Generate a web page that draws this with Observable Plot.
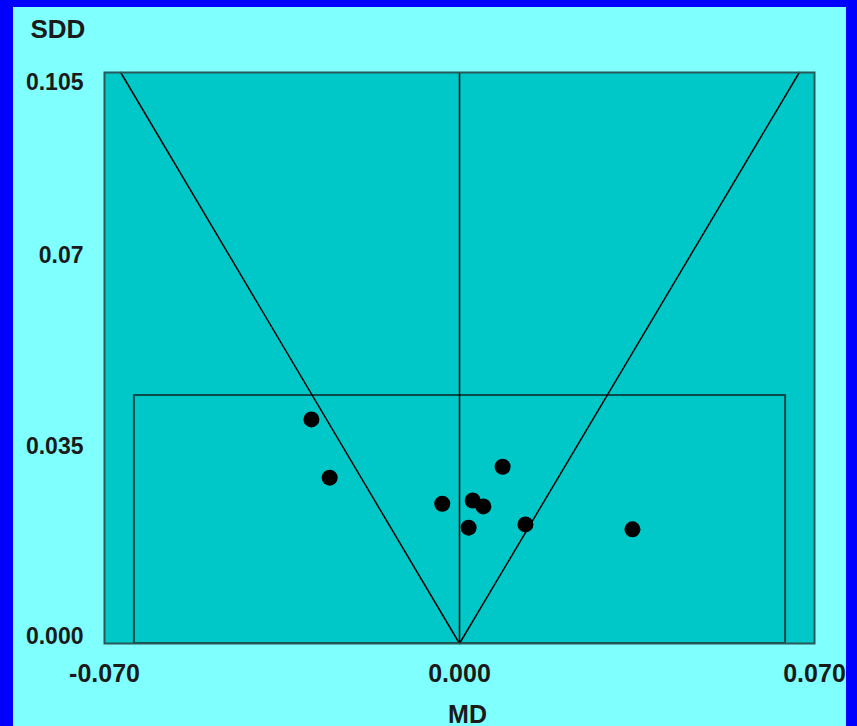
<!DOCTYPE html>
<html>
<head>
<meta charset="utf-8">
<script src="https://cdn.jsdelivr.net/npm/d3@7"></script>
<script src="https://cdn.jsdelivr.net/npm/@observablehq/plot@0.6"></script>
<style>
  html, body { margin: 0; padding: 0; background: #0000ff; width: 857px; height: 726px; overflow: hidden; }
  #chart { position: absolute; left: 13px; top: 7px; width: 833px; height: 719px; background: #80ffff; }
  svg { display: block; }
</style>
</head>
<body>
<div id="chart"></div>
<script>
// Data
const md  = [-0.0292, -0.0256, -0.0034, 0.0026, 0.0047, 0.0018, 0.0085, 0.0130, 0.0341];
const sdd = [ 0.0412,  0.0305,  0.0257, 0.0263, 0.0252, 0.0213, 0.0325, 0.0219, 0.0210];

// Funnel boundary (MD limits at SDD = 0 and at the top of the chart)
const funnelMD  = [-0.0668, 0, 0.0670];
const funnelSDD = [0.105, 0, 0.105];

// Inner acceptance rectangle
const boxMD  = [-0.0641, 0.0643];
const boxSDD = [0, 0.0456];

// Axes
const xDomain = [-0.070, 0.070];
const yDomain = [0, 0.105];
const xTicks = [-0.070, 0.000, 0.070];
const xTickLabels = ["-0.070", "0.000", "0.070"];
const yTicks = [0.000, 0.035, 0.07];
const yTickLabels = ["0.000", "0.035", "0.07"];
const yTopTick = [0.105];
const yTopLabel = ["0.105"];

const points = md.map((m, i) => ({md: m, sdd: sdd[i]}));
const funnel = funnelMD.map((m, i) => ({md: m, sdd: funnelSDD[i]}));
const box = [{x1: boxMD[0], x2: boxMD[1], y1: boxSDD[0], y2: boxSDD[1]}];

const font = "'Liberation Sans', Arial, sans-serif";

const chart = Plot.plot({
  width: 833,
  height: 719,
  marginLeft: 91,
  marginRight: 32,
  marginTop: 65,
  marginBottom: 83,
  style: {background: "#80ffff", fontFamily: font, overflow: "visible"},
  x: {domain: xDomain, axis: null},
  y: {domain: yDomain, axis: null},
  marks: [
    Plot.frame({fill: "#00c8c8", stroke: "none"}),
    Plot.rect(box, {x1: "x1", x2: "x2", y1: "y1", y2: "y2", fill: "none", stroke: "#0b4a4a", strokeWidth: 2}),
    Plot.ruleX([0], {y1: yDomain[0], y2: yDomain[1], stroke: "#000", strokeWidth: 1.5}),
    Plot.line(funnel, {x: "md", y: "sdd", stroke: "#000", strokeWidth: 1.5}),
    Plot.dot(points, {x: "md", y: "sdd", r: 8, fill: "#000", stroke: "none"}),
    Plot.frame({stroke: "#2a5858", strokeWidth: 2, fill: "none"}),
    // y tick labels
    Plot.text(yTicks, {y: d => d, text: (d, i) => yTickLabels[i], frameAnchor: "left", textAnchor: "end", dx: -21, dy: -7,
      fontSize: 23, fontWeight: "bold", fill: "#1a1a1a"}),
    Plot.text(yTopTick, {y: d => d, text: (d, i) => yTopLabel[i], frameAnchor: "left", textAnchor: "end", dx: -21, dy: 10,
      fontSize: 23, fontWeight: "bold", fill: "#1a1a1a"}),
    // x tick labels
    Plot.text(xTicks, {x: d => d, text: (d, i) => xTickLabels[i], frameAnchor: "bottom", textAnchor: "middle", dy: 38,
      fontSize: 25, fontWeight: "bold", fill: "#1a1a1a"}),
    // axis titles
    Plot.text(["SDD"], {text: d => d, frameAnchor: "top-left", textAnchor: "start", lineAnchor: "bottom", dx: -74, dy: -35,
      fontSize: 26, fontWeight: "bold", fill: "#1a1a1a"}),
    Plot.text(["MD"], {text: d => d, frameAnchor: "bottom", textAnchor: "middle", lineAnchor: "bottom", dx: 8, dy: 79,
      fontSize: 25, fontWeight: "bold", fill: "#1a1a1a"})
  ]
});

document.getElementById("chart").appendChild(chart);
</script>
</body>
</html>
